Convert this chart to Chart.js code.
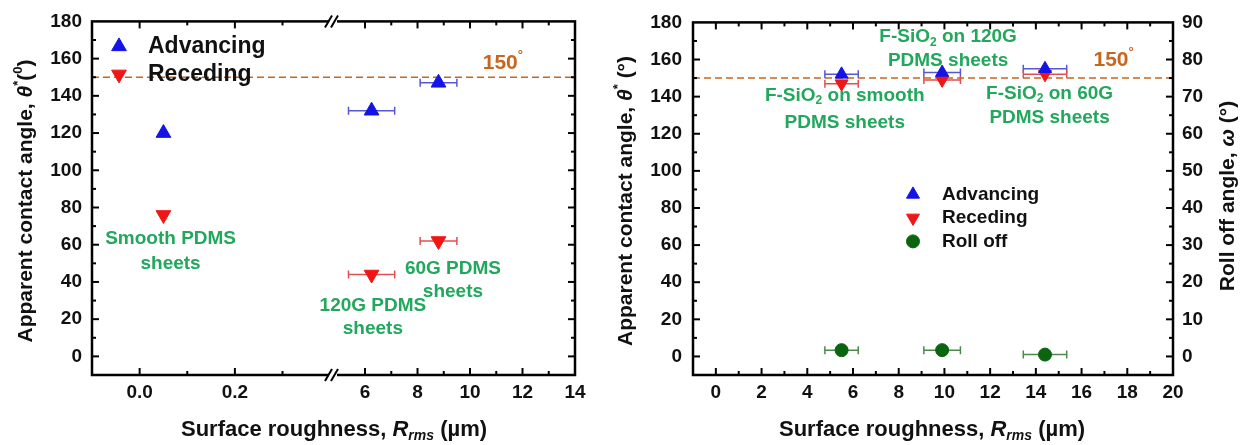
<!DOCTYPE html>
<html>
<head>
<meta charset="utf-8">
<script src="https://cdn.jsdelivr.net/npm/chart.js@4.4.1/dist/chart.umd.min.js"></script>
<style>
  html, body { margin: 0; padding: 0; background: #fff; }
  #wrap { position: relative; width: 1246px; height: 445px; }
  #c1 { position: absolute; left: 0; top: 0; }
  #c2 { position: absolute; left: 610px; top: 0; }
</style>
</head>
<body>
<div id="wrap">
  <canvas id="c1" width="610" height="445"></canvas>
  <canvas id="c2" width="636" height="445"></canvas>
</div>
<script>
// left panel, bare PDMS sheets (x axis is broken after 0.4)
const smoothRms = [0.05];
const smoothAdv = [120];
const smoothRec = [76];
const roughRms = [6.25, 8.8];
const roughRmsErr = [0.88, 0.7];
const roughAdv = [132, 147];
const roughRec = [44, 62];
const leftLowLabels = [0, 0.2];

// right panel, F-SiO2 coated sheets
const coatRms = [5.5, 9.9, 14.4];
const coatRmsErr = [0.73, 0.8, 0.95];
const coatAdv = [152, 153, 155];
const coatRec = [147, 149, 152];
const coatRoll = [1.7, 1.7, 0.5];

const refAngle = 150;

const FONT = '"Liberation Sans", Arial, sans-serif';
const BLUE = '#1414e6';
const RED = '#f01616';
const DKGREEN = '#0a6410';
const BLUE_ERR = '#5656d6';
const RED_ERR = '#e05050';
const GREEN_ERR = '#4c8a4c';
const NOTE = '#22a85c';
const REF = '#c8661e';

const pts = (xs, ys) => xs.map((x, i) => ({x: x, y: ys[i]}));

// rich text: parts are [text, kind], kind '' | 'i' | 'sub' | 'sup' | 'isub'
function partFont(kind, size) {
  const small = /sub|sup/.test(kind);
  return (kind[0] === 'i' ? 'italic ' : '') + 'bold ' + Math.round(small ? size * 0.62 : size) + 'px ' + FONT;
}
function partDy(kind, size) {
  if (/sub/.test(kind)) return size * 0.28;
  if (/sup/.test(kind)) return -size * 0.36;
  return 0;
}
function drawRich(ctx, parts, x, y, size, color, rot) {
  ctx.save();
  ctx.translate(x, y);
  if (rot) ctx.rotate(rot);
  ctx.fillStyle = color;
  ctx.textBaseline = 'middle';
  ctx.textAlign = 'left';
  let w = 0;
  parts.forEach(p => { ctx.font = partFont(p[1], size); w += ctx.measureText(p[0]).width; });
  let cx = -w / 2;
  parts.forEach(p => {
    ctx.font = partFont(p[1], size);
    ctx.fillText(p[0], cx, partDy(p[1], size));
    cx += ctx.measureText(p[0]).width;
  });
  ctx.restore();
}

function marker(ctx, style, rot, r, color, x, y) {
  ctx.save();
  ctx.fillStyle = color;
  ctx.strokeStyle = color;
  if (Chart.helpers && Chart.helpers.drawPoint) {
    Chart.helpers.drawPoint(ctx, {pointStyle: style, rotation: rot, radius: r, borderWidth: 1}, x, y);
  } else {
    ctx.beginPath();
    ctx.arc(x, y, r, 0, Math.PI * 2);
    ctx.fill();
  }
  ctx.restore();
}

// horizontal error bars
const errPlugin = {
  id: 'errbars',
  beforeDatasetsDraw(chart) {
    const ctx = chart.ctx;
    chart.data.datasets.forEach(ds => {
      if (!ds.xErr) return;
      const xs = chart.scales[ds.xAxisID || 'x'];
      const ys = chart.scales[ds.yAxisID || 'y'];
      ctx.save();
      ctx.strokeStyle = ds.errColor;
      ctx.lineWidth = 1.5;
      ds.data.forEach((d, j) => {
        const y = ys.getPixelForValue(d.y);
        const x0 = xs.getPixelForValue(d.x - ds.xErr[j]);
        const x1 = xs.getPixelForValue(d.x + ds.xErr[j]);
        ctx.beginPath();
        ctx.moveTo(x0, y); ctx.lineTo(x1, y);
        ctx.moveTo(x0, y - 4); ctx.lineTo(x0, y + 4);
        ctx.moveTo(x1, y - 4); ctx.lineTo(x1, y + 4);
        ctx.stroke();
      });
      ctx.restore();
    });
  }
};

// dashed 150 deg line
const refPlugin = {
  id: 'refline',
  beforeDatasetsDraw(chart) {
    const {ctx, chartArea: a} = chart;
    const y = chart.scales.y.getPixelForValue(refAngle);
    ctx.save();
    ctx.strokeStyle = REF;
    ctx.lineWidth = 1.6;
    ctx.setLineDash([7, 4]);
    ctx.beginPath();
    ctx.moveTo(a.left, y);
    ctx.lineTo(a.right, y);
    ctx.stroke();
    ctx.restore();
  }
};

// box frame, inward ticks, axis break
const framePlugin = {
  id: 'frame',
  afterDatasetsDraw(chart, args, opts) {
    const {ctx, chartArea: a} = chart;
    const line = (x0, y0, x1, y1) => { ctx.beginPath(); ctx.moveTo(x0, y0); ctx.lineTo(x1, y1); ctx.stroke(); };
    ctx.save();
    ctx.strokeStyle = '#000';
    ctx.lineWidth = 2;
    Object.values(chart.scales).forEach(s => {
      s.ticks.forEach(t => {
        const major = t.label !== '' && t.label != null;
        const len = major ? 7 : 4;
        const p = s.getPixelForValue(t.value);
        if (s.isHorizontal()) {
          if (p < s.left + 6 || p > s.right - 4) return;
          line(p, a.bottom, p, a.bottom - len);
          line(p, a.top, p, a.top + len);
        } else {
          if (p < a.top + 4 || p > a.bottom - 4) return;
          if (s.position === 'left') {
            line(a.left, p, a.left + len, p);
            if (opts.mirror) line(a.right, p, a.right - len, p);
          } else {
            line(a.right, p, a.right - len, p);
          }
        }
      });
    });
    ctx.lineWidth = 2.5;
    ctx.strokeRect(a.left, a.top, a.right - a.left, a.bottom - a.top);
    if (opts.breakAfter) {
      const bx = chart.scales[opts.breakAfter].right;
      [a.top, a.bottom].forEach(y => {
        ctx.fillStyle = '#fff';
        ctx.fillRect(bx - 4, y - 3, 8, 6);
        ctx.lineWidth = 2;
        line(bx - 8, y + 6, bx - 1, y - 6);
        line(bx - 2, y + 6, bx + 5, y - 6);
      });
    }
    ctx.restore();
  }
};

// titles, notes and the in-plot legend
const textPlugin = {
  id: 'texts',
  afterDraw(chart, args, opts) {
    const {ctx, chartArea: a} = chart;
    (opts.titles || []).forEach(t => drawRich(ctx, t.parts, t.x, t.y, t.size, '#111', t.rot));
    (opts.notes || []).forEach(n => {
      const x = chart.scales[n.ax].getPixelForValue(n.x);
      const y = chart.scales.y.getPixelForValue(n.y);
      n.lines.forEach((ln, i) => drawRich(ctx, ln, x, y + i * n.gap, n.size || 19, n.color || NOTE));
    });
    const lg = opts.legend;
    if (lg) {
      let row = 0;
      chart.data.datasets.forEach(ds => {
        if (!ds.inLegend) return;
        const y = a.top + lg.y + row * lg.gap;
        marker(ctx, ds.pointStyle, ds.pointRotation || 0, ds.pointRadius, ds.backgroundColor, a.left + lg.x, y);
        ctx.save();
        ctx.fillStyle = '#111';
        ctx.font = 'bold ' + lg.size + 'px ' + FONT;
        ctx.textBaseline = 'middle';
        ctx.fillText(ds.label, a.left + lg.tx, y);
        ctx.restore();
        row++;
      });
    }
  }
};

const tickFont = {size: 19, weight: 'bold', family: FONT};
const noGrid = {display: false, drawTicks: false};
const noBorder = {display: false};

const rmsTitle = [['Surface roughness, ', ''], ['R', 'i'], ['rms', 'isub'], [' (\u00b5m)', '']];

// ---------- left chart ----------
new Chart(document.getElementById('c1'), {
  type: 'scatter',
  data: {
    datasets: [
      {label: 'Advancing', inLegend: true, data: pts(smoothRms, smoothAdv), xAxisID: 'xa',
       pointStyle: 'triangle', pointRotation: 0, pointRadius: 8.5, backgroundColor: BLUE, borderColor: BLUE},
      {label: 'Receding', inLegend: true, data: pts(smoothRms, smoothRec), xAxisID: 'xa',
       pointStyle: 'triangle', pointRotation: 180, pointRadius: 8.5, backgroundColor: RED, borderColor: RED},
      {label: 'Advancing', data: pts(roughRms, roughAdv), xAxisID: 'xb', xErr: roughRmsErr, errColor: BLUE_ERR,
       pointStyle: 'triangle', pointRotation: 0, pointRadius: 8.5, backgroundColor: BLUE, borderColor: BLUE},
      {label: 'Receding', data: pts(roughRms, roughRec), xAxisID: 'xb', xErr: roughRmsErr, errColor: RED_ERR,
       pointStyle: 'triangle', pointRotation: 180, pointRadius: 8.5, backgroundColor: RED, borderColor: RED}
    ]
  },
  options: {
    responsive: false,
    animation: false,
    layout: {padding: {top: 18, right: 35, left: 0, bottom: 0}},
    plugins: {
      legend: {display: false},
      tooltip: {enabled: false},
      frame: {mirror: true, breakAfter: 'xa'},
      texts: {
        titles: [
          {parts: rmsTitle, x: 334, y: 430, size: 22},
          {parts: [['Apparent contact angle, ', ''], ['\u03b8', 'i'], ['*', 'sup'], ['(', ''], ['0', 'sup'], [')', '']],
           x: 26, y: 201, size: 21, rot: -Math.PI / 2}
        ],
        notes: [
          {ax: 'xa', x: 0.065, y: 63, gap: 25, lines: [[['Smooth PDMS', '']], [['sheets', '']]]},
          {ax: 'xb', x: 6.3, y: 27, gap: 23, lines: [[['120G PDMS', '']], [['sheets', '']]]},
          {ax: 'xb', x: 9.35, y: 47, gap: 23, lines: [[['60G PDMS', '']], [['sheets', '']]]},
          {ax: 'xb', x: 11.25, y: 157.5, gap: 0, size: 21, color: REF, lines: [[['150', ''], ['\u00b0', 'sup']]]}
        ],
        legend: {x: 27, tx: 56, y: 25, gap: 28, size: 23}
      }
    },
    scales: {
      xa: {
        type: 'linear', position: 'bottom', stack: 'rms', stackWeight: 241,
        min: -0.1, max: 0.406,
        ticks: {stepSize: 0.1, includeBounds: false, autoSkip: false, maxRotation: 0, padding: 6, color: '#111', font: tickFont,
                callback: v => leftLowLabels.some(t => Math.abs(t - v) < 1e-6) ? v.toFixed(1) : ''},
        grid: noGrid, border: noBorder,
        afterFit: s => { s.height = 70; }
      },
      xb: {
        type: 'linear', position: 'bottom', stack: 'rms', stackWeight: 242,
        min: 4.78, max: 14,
        ticks: {stepSize: 1, includeBounds: false, autoSkip: false, maxRotation: 0, padding: 6, color: '#111', font: tickFont,
                callback: v => (Math.round(v) % 2 === 0 ? String(v) : '')},
        grid: noGrid, border: noBorder,
        afterFit: s => { s.height = 70; }
      },
      y: {
        type: 'linear', position: 'left', min: -10, max: 180,
        ticks: {stepSize: 10, autoSkip: false, padding: 10, color: '#111', font: tickFont,
                callback: v => (v % 20 === 0 ? String(v) : '')},
        grid: noGrid, border: noBorder,
        afterFit: s => { s.width = 92; }
      }
    }
  },
  plugins: [errPlugin, refPlugin, framePlugin, textPlugin]
});

// ---------- right chart ----------
new Chart(document.getElementById('c2'), {
  type: 'scatter',
  data: {
    datasets: [
      {label: 'Advancing', inLegend: true, data: pts(coatRms, coatAdv), xErr: coatRmsErr, errColor: BLUE_ERR,
       pointStyle: 'triangle', pointRotation: 0, pointRadius: 7.5, backgroundColor: BLUE, borderColor: BLUE},
      {label: 'Receding', inLegend: true, data: pts(coatRms, coatRec), xErr: coatRmsErr, errColor: RED_ERR,
       pointStyle: 'triangle', pointRotation: 180, pointRadius: 7.5, backgroundColor: RED, borderColor: RED},
      {label: 'Roll off', inLegend: true, data: pts(coatRms, coatRoll), yAxisID: 'y2', xErr: coatRmsErr, errColor: GREEN_ERR,
       pointStyle: 'circle', pointRadius: 6.5, backgroundColor: DKGREEN, borderColor: DKGREEN}
    ]
  },
  options: {
    responsive: false,
    animation: false,
    layout: {padding: {top: 18, right: 0, left: 0, bottom: 0}},
    plugins: {
      legend: {display: false},
      tooltip: {enabled: false},
      frame: {},
      texts: {
        titles: [
          {parts: rmsTitle, x: 322, y: 430, size: 22},
          {parts: [['Apparent contact angle, ', ''], ['\u03b8', 'i'], ['*', 'sup'], [' (\u00b0)', '']],
           x: 16, y: 201, size: 21, rot: -Math.PI / 2},
          {parts: [['Roll off angle, ', ''], ['\u03c9', 'i'], [' (\u00b0)', '']],
           x: 618, y: 196, size: 21, rot: -Math.PI / 2}
        ],
        notes: [
          {ax: 'x', x: 5.64, y: 140.7, gap: 27, lines: [[['F-SiO', ''], ['2', 'sub'], [' on smooth', '']], [['PDMS sheets', '']]]},
          {ax: 'x', x: 10.16, y: 172, gap: 24, lines: [[['F-SiO', ''], ['2', 'sub'], [' on 120G', '']], [['PDMS sheets', '']]]},
          {ax: 'x', x: 14.6, y: 141.8, gap: 24, lines: [[['F-SiO', ''], ['2', 'sub'], [' on 60G', '']], [['PDMS sheets', '']]]},
          {ax: 'x', x: 17.4, y: 159.5, gap: 0, size: 21, color: REF, lines: [[['150', ''], ['\u00b0', 'sup']]]}
        ],
        legend: {x: 220, tx: 249, y: 172, gap: 23.5, size: 19}
      }
    },
    scales: {
      x: {
        type: 'linear', position: 'bottom', min: -1, max: 20,
        ticks: {stepSize: 1, autoSkip: false, maxRotation: 0, padding: 6, color: '#111', font: tickFont,
                callback: v => (v % 2 === 0 ? String(v) : '')},
        grid: noGrid, border: noBorder,
        afterFit: s => { s.height = 70; }
      },
      y: {
        type: 'linear', position: 'left', min: -10, max: 180,
        ticks: {stepSize: 10, autoSkip: false, padding: 11, color: '#111', font: tickFont,
                callback: v => (v % 20 === 0 ? String(v) : '')},
        grid: noGrid, border: noBorder,
        afterFit: s => { s.width = 83; }
      },
      y2: {
        type: 'linear', position: 'right', min: -5, max: 90,
        ticks: {stepSize: 5, autoSkip: false, padding: 9, color: '#111', font: tickFont,
                callback: v => (v % 10 === 0 ? String(v) : '')},
        grid: noGrid, border: noBorder,
        afterFit: s => { s.width = 73; }
      }
    }
  },
  plugins: [errPlugin, refPlugin, framePlugin, textPlugin]
});
</script>
</body>
</html>
